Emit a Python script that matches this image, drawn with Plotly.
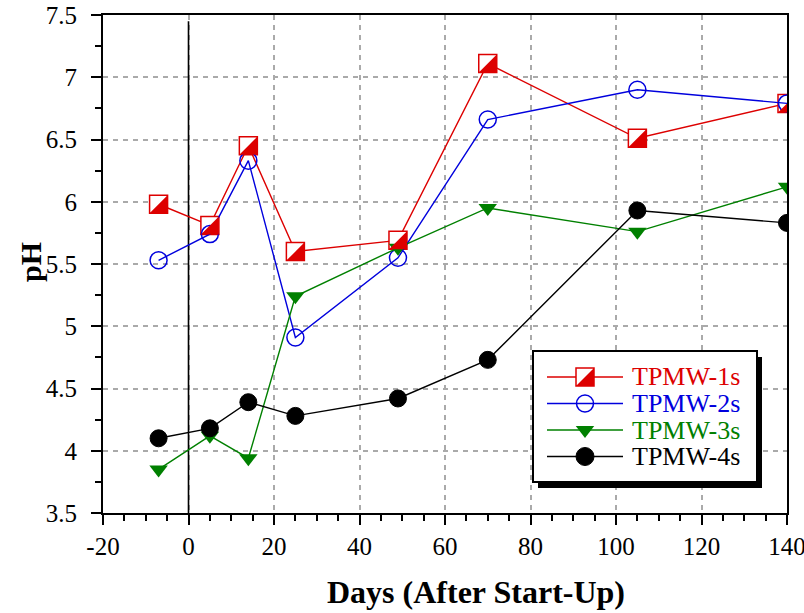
import plotly.graph_objects as go

# Sampling days and measured pH for each reactor
days = [-7, 5, 14, 25, 49, 70, 105, 140]
ph_1s = [5.98, 5.81, 6.45, 5.60, 5.69, 7.11, 6.51, 6.79]
ph_2s = [5.53, 5.74, 6.33, 4.91, 5.55, 6.66, 6.90, 6.79]
ph_3s = [3.85, 4.12, 3.94, 5.24, 5.63, 5.95, 5.76, 6.12]
ph_4s = [4.10, 4.18, 4.39, 4.28, 4.42, 4.73, 5.93, 5.83]

series_names = ["TPMW-1s", "TPMW-2s", "TPMW-3s", "TPMW-4s"]
x_tickvals = [-20, 0, 20, 40, 60, 80, 100, 120, 140]
x_ticktext = ["-20", "0", "20", "40", "60", "80", "100", "120", "140"]
y_tickvals = [3.5, 4, 4.5, 5, 5.5, 6, 6.5, 7, 7.5]
y_ticktext = ["3.5", "4", "4.5", "5", "5.5", "6", "6.5", "7", "7.5"]

RED, BLUE, GREEN, BLACK = "#dd0000", "#0000dd", "#008000", "#000000"
SERIF = "Liberation Serif, Times New Roman, serif"

W, H = 804, 613
ML, MR, MT, MB = 103, 17, 15, 100
PW, PH = W - ML - MR, H - MT - MB


def px(x):
    return (x - ML) / PW


def py(y):
    return (H - MB - y) / PH


fig = go.Figure()

fig.add_trace(go.Scatter(
    x=days, y=ph_1s, mode="lines+markers", name=series_names[0],
    line=dict(color=RED, width=1.4),
    marker=dict(symbol="square", size=18, color="white", line=dict(color=RED, width=1.5)),
))
fig.add_trace(go.Scatter(
    x=days, y=ph_2s, mode="lines+markers", name=series_names[1],
    line=dict(color=BLUE, width=1.4),
    marker=dict(symbol="circle-open", size=17, color=BLUE, line=dict(width=1.5)),
))
fig.add_trace(go.Scatter(
    x=days, y=ph_3s, mode="lines+markers", name=series_names[2],
    line=dict(color=GREEN, width=1.4),
    marker=dict(symbol="triangle-down", size=16, color=GREEN, line=dict(width=0)),
))
fig.add_trace(go.Scatter(
    x=days, y=ph_4s, mode="lines+markers", name=series_names[3],
    line=dict(color=BLACK, width=1.4),
    marker=dict(symbol="circle", size=17, color=BLACK, line=dict(color=BLACK, width=1)),
))

shapes = []
# start-up marker line
shapes.append(dict(type="line", xref="x", yref="y", x0=0, x1=0, y0=3.5, y1=7.45,
                   line=dict(color="black", width=1.6), layer="between"))

# filled lower-right half of the square markers
HALF = "M9,9 L9,-9 L-9,-9 Z"
for d, v in zip(days, ph_1s):
    shapes.append(dict(type="path", xref="x", yref="y", xsizemode="pixel", ysizemode="pixel",
                       xanchor=d, yanchor=v, path=HALF, fillcolor=RED,
                       line=dict(width=0), layer="above"))

# legend box with drop shadow
lx0, lx1, ly0, ly1 = 533, 757, 351, 482
shapes.append(dict(type="rect", xref="paper", yref="paper",
                   x0=px(lx0 + 5), x1=px(lx1 + 5), y0=py(ly1 + 6), y1=py(ly0 + 6),
                   fillcolor="black", line=dict(width=0), layer="above"))
shapes.append(dict(type="rect", xref="paper", yref="paper",
                   x0=px(lx0), x1=px(lx1), y0=py(ly1), y1=py(ly0),
                   fillcolor="white", line=dict(color="black", width=2), layer="above"))

rows = [377, 403.5, 430, 456.5]
colors = [RED, BLUE, GREEN, BLACK]
mx = 585
for r, c, name in zip(rows, colors, series_names):
    shapes.append(dict(type="line", xref="paper", yref="paper",
                       x0=px(547), x1=px(623), y0=py(r), y1=py(r),
                       line=dict(color=c, width=1.4), layer="above"))
    fig.add_annotation(x=px(630), y=py(r), xref="paper", yref="paper",
                       xanchor="left", yanchor="middle", showarrow=False,
                       text=name, font=dict(family=SERIF, size=26, color=c))

anchor = dict(xref="paper", yref="paper", xsizemode="pixel", ysizemode="pixel",
              xanchor=px(mx), layer="above")
# legend symbols
shapes.append(dict(type="rect", x0=-9, x1=9, y0=-9, y1=9, yanchor=py(rows[0]),
                   fillcolor="white", line=dict(color=RED, width=1.5), **anchor))
shapes.append(dict(type="path", path=HALF, yanchor=py(rows[0]),
                   fillcolor=RED, line=dict(width=0), **anchor))
shapes.append(dict(type="circle", x0=-8.5, x1=8.5, y0=-8.5, y1=8.5, yanchor=py(rows[1]),
                   line=dict(color=BLUE, width=1.5), **anchor))
shapes.append(dict(type="path", path="M-9.24,4 L9.24,4 L0,-8 Z", yanchor=py(rows[2]),
                   fillcolor=GREEN, line=dict(width=0), **anchor))
shapes.append(dict(type="circle", x0=-9, x1=9, y0=-9, y1=9, yanchor=py(rows[3]),
                   fillcolor=BLACK, line=dict(color=BLACK, width=1), **anchor))

fig.update_layout(shapes=shapes)

# axis titles
fig.add_annotation(x=px(476), y=py(592), xref="paper", yref="paper",
                   xanchor="center", yanchor="middle", showarrow=False,
                   text="<b>Days (After Start-Up)</b>",
                   font=dict(family=SERIF, size=32, color="black"))
fig.add_annotation(x=px(30), y=py(262), xref="paper", yref="paper",
                   xanchor="center", yanchor="middle", showarrow=False, textangle=-90,
                   text="<b>pH</b>", font=dict(family=SERIF, size=30, color="black"))

axis_common = dict(
    showline=True, linecolor="black", linewidth=2, mirror=True,
    ticks="outside", ticklen=10, tickwidth=1.5, tickcolor="black",
    showgrid=True, gridcolor="#aaaaaa", gridwidth=1.5, griddash="5px,5px",
    zeroline=False, tickfont=dict(family=SERIF, size=25, color="black"),
    automargin=False, ticklabeloverflow="allow",
)

fig.update_xaxes(range=[-20, 140], tickmode="array", tickvals=x_tickvals, ticktext=x_ticktext,
                 ticklabelstandoff=0,
                 minor=dict(dtick=5, ticks="outside", ticklen=6, tickwidth=1.5,
                            tickcolor="black", showgrid=False),
                 **axis_common)
fig.update_yaxes(range=[3.5, 7.5], tickmode="array", tickvals=y_tickvals, ticktext=y_ticktext,
                 ticklabelstandoff=9,
                 minor=dict(dtick=0.25, ticks="outside", ticklen=6, tickwidth=1.5,
                            tickcolor="black", showgrid=False),
                 **axis_common)

fig.update_layout(
    width=W, height=H,
    margin=dict(l=ML, r=MR, t=MT, b=MB, autoexpand=False),
    paper_bgcolor="white", plot_bgcolor="white",
    font=dict(family=SERIF),
    showlegend=False,
)

fig.write_html("out.html")
